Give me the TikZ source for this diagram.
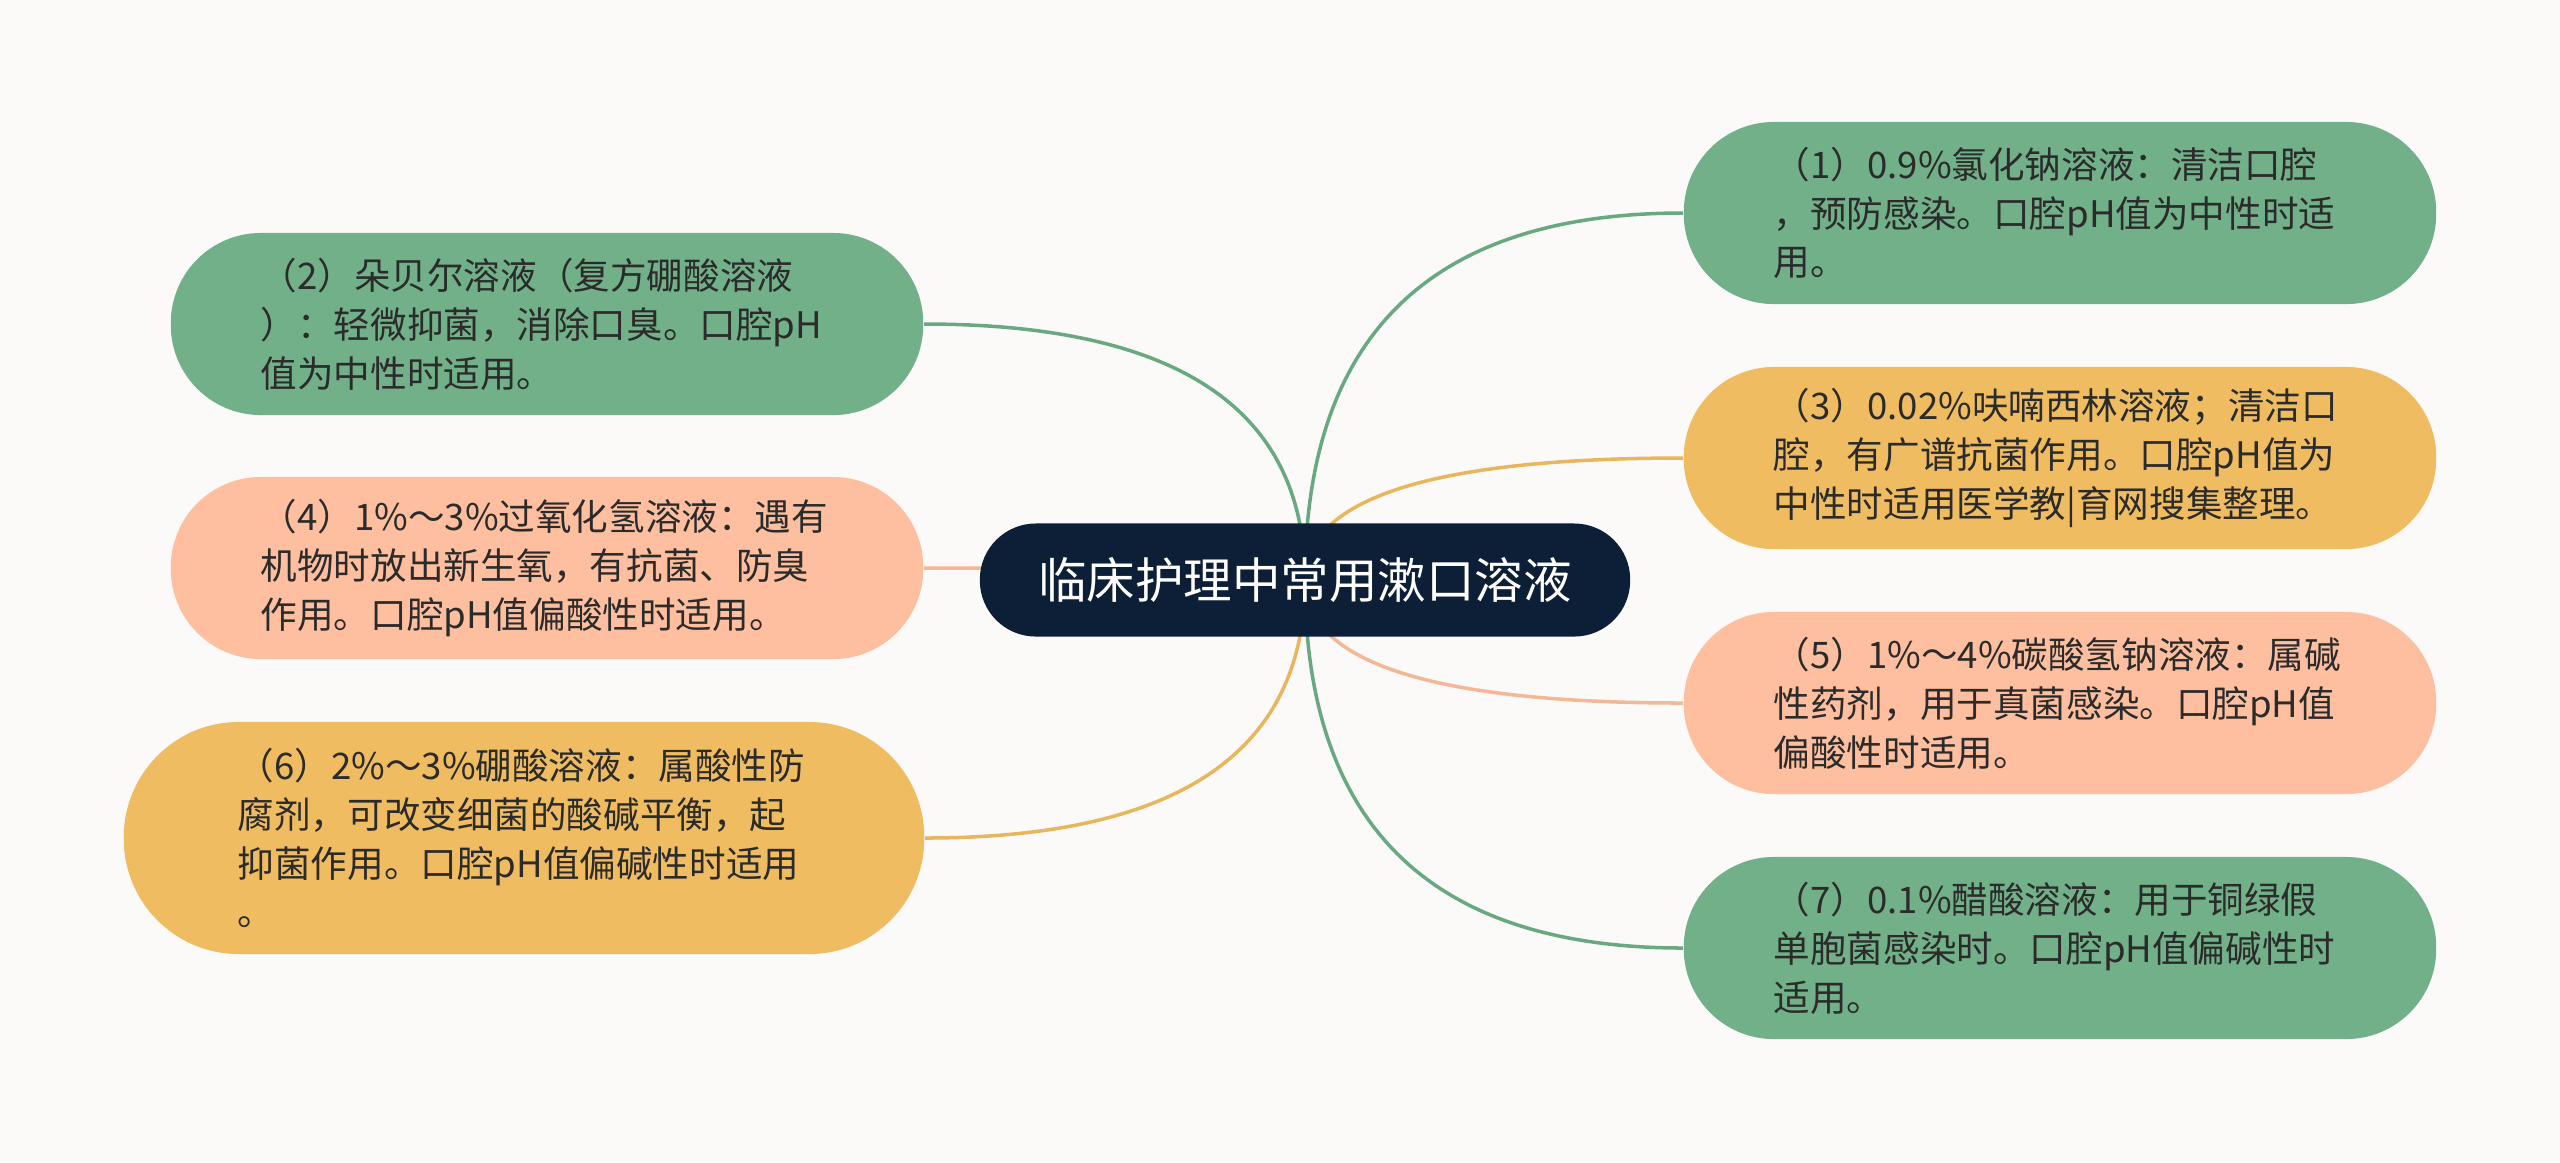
\documentclass[tikz,border=0pt]{standalone}
\usepackage{fontspec}
\setmainfont{Noto Sans CJK SC}
\usetikzlibrary{calc,backgrounds}
\definecolor{paper}{HTML}{FCFAF9}
\definecolor{navy}{HTML}{0D1E37}
\definecolor{ink}{HTML}{2B2B2B}
\definecolor{sgreen}{HTML}{71B088}
\definecolor{sgold}{HTML}{EFBC62}
\definecolor{speach}{HTML}{FDBF9F}
\definecolor{lgreen}{HTML}{69A982}
\definecolor{lgold}{HTML}{E8B75D}
\definecolor{lpeach}{HTML}{F4B897}
% quadratic branch from the root centre to one side of a leaf
\newcommand{\twig}[3]{\draw[link, #3] (root.center) .. controls ($(root.center)!2/3!(root.center |- #1.#2)$) and ($(#1.#2)!2/3!(root.center |- #1.#2)$) .. (#1.#2);}

\begin{document}
\begin{tikzpicture}[x=0.01cm, y=-0.01cm,
    topic/.style={rectangle, rounded corners=0.56cm, fill=navy, text=white, minimum width=6.5cm, minimum height=1.13cm, inner sep=0pt, font=\fontsize{13.8pt}{16pt}\selectfont},
    leaf/.style={rectangle, rounded corners=0.9cm, text=ink, text width=5.72cm, align=left, minimum width=7.52cm, minimum height=1.82cm, inner sep=0pt, font=\fontsize{10.4pt}{13.9pt}\selectfont},
    link/.style={line width=1pt}]

    \useasboundingbox (0,0) rectangle (2560,1162);

    % 中心主题
    \node[topic] (root) at (1305,580) {临床护理中常用漱口溶液};

    % 右侧分支
    \node[leaf, fill=sgreen] (sol1) at (2060,213) {（1）0.9\%氯化钠溶液：清洁口腔\\，预防感染。口腔pH值为中性时适\\用。};
    \node[leaf, fill=sgold] (sol3) at (2060,458) {（3）0.02\%呋喃西林溶液；清洁口\\腔，有广谱抗菌作用。口腔pH值为\\中性时适用医学教|育网搜集整理。};
    \node[leaf, fill=speach] (sol5) at (2060,703) {（5）1\%～4\%碳酸氢钠溶液：属碱\\性药剂，用于真菌感染。口腔pH值\\偏酸性时适用。};
    \node[leaf, fill=sgreen] (sol7) at (2060,948) {（7）0.1\%醋酸溶液：用于铜绿假\\单胞菌感染时。口腔pH值偏碱性时\\适用。};

    % 左侧分支
    \node[leaf, fill=sgreen] (sol2) at (547,324) {（2）朵贝尔溶液（复方硼酸溶液\\）：轻微抑菌，消除口臭。口腔pH\\值为中性时适用。};
    \node[leaf, fill=speach] (sol4) at (547,568) {（4）1\%～3\%过氧化氢溶液：遇有\\机物时放出新生氧，有抗菌、防臭\\作用。口腔pH值偏酸性时适用。};
    \node[leaf, fill=sgold, minimum width=8cm, minimum height=2.32cm, rounded corners=1.15cm] (sol6) at (524,838) {（6）2\%～3\%硼酸溶液：属酸性防\\腐剂，可改变细菌的酸碱平衡，起\\抑菌作用。口腔pH值偏碱性时适用\\。};

    % 连线放在底层
    \begin{scope}[on background layer]
        \fill[paper] (0,0) rectangle (2560,1162);
        \twig{sol1}{west}{lgreen}
        \twig{sol3}{west}{lgold}
        \twig{sol5}{west}{lpeach}
        \twig{sol7}{west}{lgreen}
        \twig{sol2}{east}{lgreen}
        \twig{sol4}{east}{lpeach}
        \twig{sol6}{east}{lgold}
    \end{scope}
\end{tikzpicture}
\end{document}
